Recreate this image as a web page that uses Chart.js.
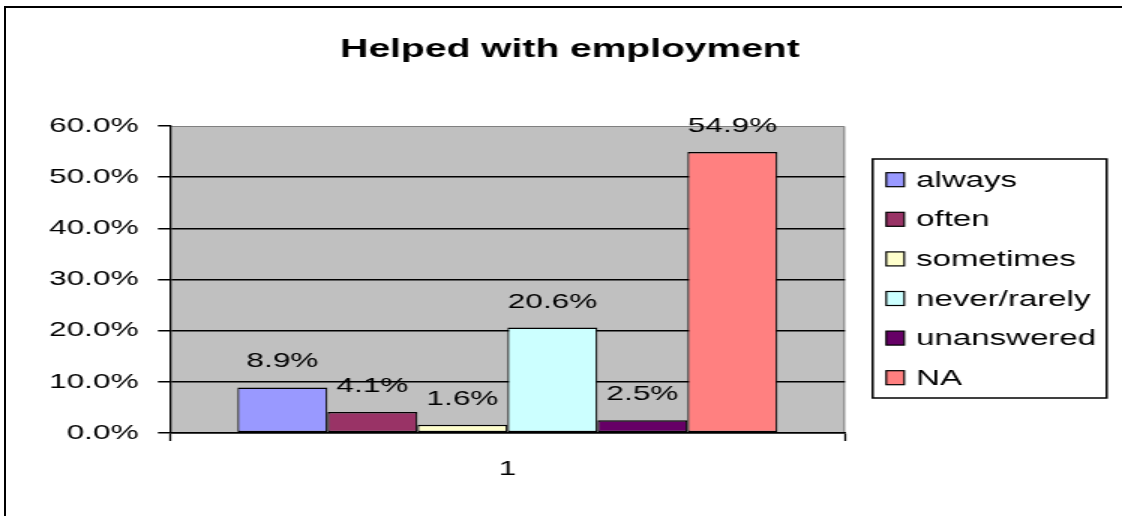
<!DOCTYPE html>
<html>
<head>
<meta charset="utf-8">
<script src="https://cdn.jsdelivr.net/npm/chart.js@4/dist/chart.umd.min.js"></script>
<style>
  html, body { margin: 0; padding: 0; background: #fff; width: 1122px; height: 516px; overflow: hidden; position: relative; }
  #frame { position: absolute; left: 4px; top: 6px; width: 2000px; height: 2000px; border-left: 2px solid #000; border-top: 2px solid #000; }
  #c { position: absolute; left: 0; top: 0; width: 748px; height: 516px; transform: scaleX(1.5); transform-origin: 0 0; }
</style>
</head>
<body>
<div id="frame"></div>
<canvas id="c" width="748" height="516"></canvas>
<script>
const titleText = 'Helped with employment';
const categories = ['1'];
const seriesNames = ['always', 'often', 'sometimes', 'never/rarely', 'unanswered', 'NA'];
const seriesValues = [8.9, 4.1, 1.6, 20.6, 2.5, 54.9];
const seriesColors = ['#9999FF', '#993366', '#FFFFCC', '#CCFFFF', '#660066', '#FF8080'];
const yTickValues = [0, 10, 20, 30, 40, 50, 60];

const FONT = '"Liberation Sans", Arial, sans-serif';

const datasets = seriesNames.map((name, i) => ({
  label: name,
  data: [seriesValues[i]],
  backgroundColor: seriesColors[i],
  borderColor: '#000',
  borderWidth: { top: 1.5, bottom: 1.5, left: 1.2, right: 1.2 },
  borderSkipped: false,
  categoryPercentage: 0.8,
  barPercentage: 1,
  yAxisID: 'y'
}));

const plotBg = {
  id: 'plotBg',
  beforeDraw(chart) {
    const { ctx, chartArea: a } = chart;
    ctx.save();
    ctx.fillStyle = '#C0C0C0';
    ctx.fillRect(a.left, a.top, a.right - a.left, a.bottom - a.top);
    ctx.strokeStyle = '#808080';
    ctx.lineWidth = 1;
    ctx.beginPath();
    ctx.moveTo(a.left, a.top + 0.5);
    ctx.lineTo(a.right - 0.5, a.top + 0.5);
    ctx.lineTo(a.right - 0.5, a.bottom);
    ctx.stroke();
    ctx.restore();
  }
};

const valueLabels = {
  id: 'valueLabels',
  afterDatasetsDraw(chart) {
    const { ctx } = chart;
    ctx.save();
    ctx.font = '21px ' + FONT;
    ctx.fillStyle = '#000';
    ctx.textAlign = 'center';
    ctx.textBaseline = 'alphabetic';
    chart.data.datasets.forEach((ds, i) => {
      const meta = chart.getDatasetMeta(i);
      meta.data.forEach((el, j) => {
        ctx.fillText(ds.data[j].toFixed(1) + '%', el.x, el.y - 20);
      });
    });
    ctx.restore();
  }
};

const boxLegend = {
  id: 'boxLegend',
  afterDraw(chart) {
    const { ctx, chartArea: a } = chart;
    const left = a.right + 18.5, right = left + 156, top = 159, bottom = 398;
    ctx.save();
    ctx.strokeStyle = '#000';
    ctx.lineWidth = 1.5;
    ctx.strokeRect(left, top, right - left, bottom - top);
    ctx.font = '22px ' + FONT;
    ctx.textAlign = 'left';
    ctx.textBaseline = 'alphabetic';
    chart.data.datasets.forEach((ds, i) => {
      const cy = 179.7 + 39.6 * i;
      const bx = left + 9;
      ctx.fillStyle = ds.backgroundColor;
      ctx.fillRect(bx, cy - 7, 12, 14);
      ctx.lineWidth = 1.2;
      ctx.strokeStyle = '#000';
      ctx.strokeRect(bx, cy - 7, 12, 14);
      ctx.fillStyle = '#000';
      ctx.fillText(ds.label, left + 29, cy + 7);
    });
    ctx.restore();
  }
};

new Chart(document.getElementById('c'), {
  type: 'bar',
  data: { labels: categories, datasets },
  options: {
    responsive: false,
    animation: false,
    devicePixelRatio: 1,
    layout: { padding: { left: 12, right: 0, top: 0, bottom: 17.8 } },
    plugins: {
      legend: { display: false },
      tooltip: { enabled: false },
      title: {
        display: true,
        text: titleText,
        color: '#000',
        font: { family: FONT, size: 26, weight: 'bold' },
        padding: { top: 34.4, bottom: 60.4 }
      }
    },
    scales: {
      x: {
        type: 'category',
        grid: { drawOnChartArea: false, drawTicks: true, tickLength: 8, tickColor: '#000', tickWidth: 1.3 },
        border: { display: true, color: '#000', width: 1.5 },
        ticks: { padding: 16, color: '#000', font: { family: FONT, size: 21 } }
      },
      y: {
        type: 'linear',
        position: 'left',
        min: yTickValues[0],
        max: yTickValues[yTickValues.length - 1],
        afterBuildTicks(scale) { scale.ticks = yTickValues.map(v => ({ value: v })); },
        ticks: {
          padding: 13,
          color: '#000',
          font: { family: FONT, size: 21 },
          callback: v => v.toFixed(1) + '%'
        },
        grid: {
          color: c => (c.tick && c.tick.value === yTickValues[yTickValues.length - 1]) ? 'rgba(0,0,0,0)' : '#000',
          lineWidth: 1.5,
          tickColor: '#000',
          tickLength: 8,
          tickWidth: 1.5
        },
        border: { display: true, color: '#000', width: 1.3 },
        afterFit(scale) { scale.width = 101.3; }
      },
      y2: {
        type: 'linear',
        position: 'right',
        min: 0,
        max: 1,
        ticks: { display: false },
        grid: { display: false },
        border: { display: false },
        afterFit(scale) { scale.width = 184.7; }
      }
    }
  },
  plugins: [plotBg, valueLabels, boxLegend]
});
</script>
</body>
</html>
